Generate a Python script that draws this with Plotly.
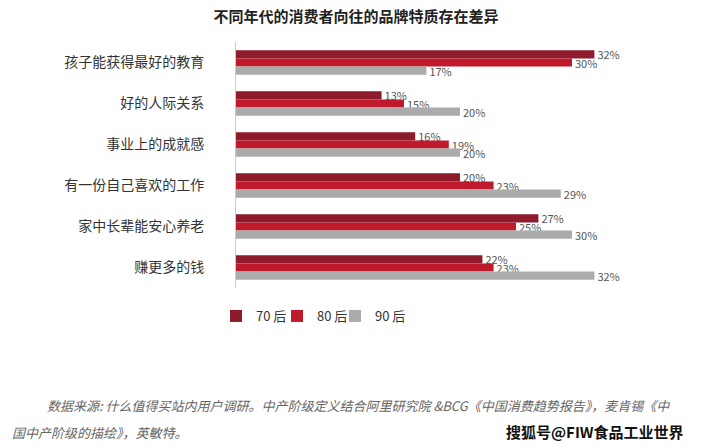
import plotly.graph_objects as go

categories = ["孩子能获得最好的教育", "好的人际关系", "事业上的成就感", "有一份自己喜欢的工作", "家中长辈能安心养老", "赚更多的钱"]
series_names = ["70 后", "80 后", "90 后"]
v70 = [32, 13, 16, 20, 27, 22]
v80 = [30, 15, 19, 23, 25, 23]
v90 = [17, 20, 20, 29, 30, 32]
colors = ["#8E1B2C", "#BF1A2C", "#ABABAB"]

W, H = 701, 445
L, R, T, B = 236, 17, 42, 157
pw, ph = W - L - R, H - T - B

def px(x):
    return (x - L) / pw

def py(y):
    return (H - B - y) / ph

font = "Noto Sans CJK SC, Noto Sans, sans-serif"
legend_ids = ["legend", "legend2", "legend3"]
legend_x = [216, 277, 335]

fig = go.Figure()
for name, vals, c, lid in zip(series_names, [v70, v80, v90], colors, legend_ids):
    fig.add_trace(go.Bar(
        y=categories, x=vals, name=name, orientation="h",
        marker=dict(color=c, line=dict(width=0)),
        text=[f"{v}%" for v in vals], textposition="outside",
        constraintext="none",
        textfont=dict(size=11, color="#555555", family=font),
        cliponaxis=False, legend=lid,
    ))

legend_common = dict(orientation="h", y=py(316), xanchor="left", yanchor="middle",
                     font=dict(size=13, color="#333333", family=font), itemwidth=30,
                     bgcolor="rgba(0,0,0,0)")

fig.update_layout(
    width=W, height=H,
    margin=dict(l=L, r=R, t=T, b=B),
    paper_bgcolor="white", plot_bgcolor="white",
    barmode="group", bargap=0.4, bargroupgap=0,
    font=dict(family=font, color="#333333"),
    title=dict(text="<b>不同年代的消费者向往的品牌特质存在差异</b>",
               x=356 / W, y=1 - 17 / H, xref="container", yref="container",
               xanchor="center", yanchor="middle",
               font=dict(size=15, color="#222222", family=font)),
    xaxis=dict(range=[0, 40], visible=False, fixedrange=True),
    yaxis=dict(autorange="reversed", showline=True, linecolor="#cccccc", linewidth=1,
               showgrid=False, ticks="", ticklabelstandoff=28,
               tickfont=dict(size=14, color="#333333", family=font)),
    legend=dict(x=px(legend_x[0]), **legend_common),
    legend2=dict(x=px(legend_x[1]), **legend_common),
    legend3=dict(x=px(legend_x[2]), **legend_common),
    showlegend=True,
)

fig.add_annotation(
    text="<i>数据来源: 什么值得买站内用户调研。中产阶级定义结合阿里研究院 &BCG《中国消费趋势报告》，麦肯锡《中</i>",
    xref="paper", yref="paper", x=px(45), y=py(405), xanchor="left", yanchor="middle",
    showarrow=False, font=dict(size=13, color="#666666", family=font))
fig.add_annotation(
    text="<i>国中产阶级的描绘》，英敏特。</i>",
    xref="paper", yref="paper", x=px(10), y=py(432), xanchor="left", yanchor="middle",
    showarrow=False, font=dict(size=13, color="#666666", family=font))
fig.add_annotation(
    text="<b>搜狐号@FIW食品工业世界</b>",
    xref="paper", yref="paper", x=px(686), y=py(431), xanchor="right", yanchor="middle",
    showarrow=False, font=dict(size=15, color="#111111", family=font))

fig.write_html("out.html")
